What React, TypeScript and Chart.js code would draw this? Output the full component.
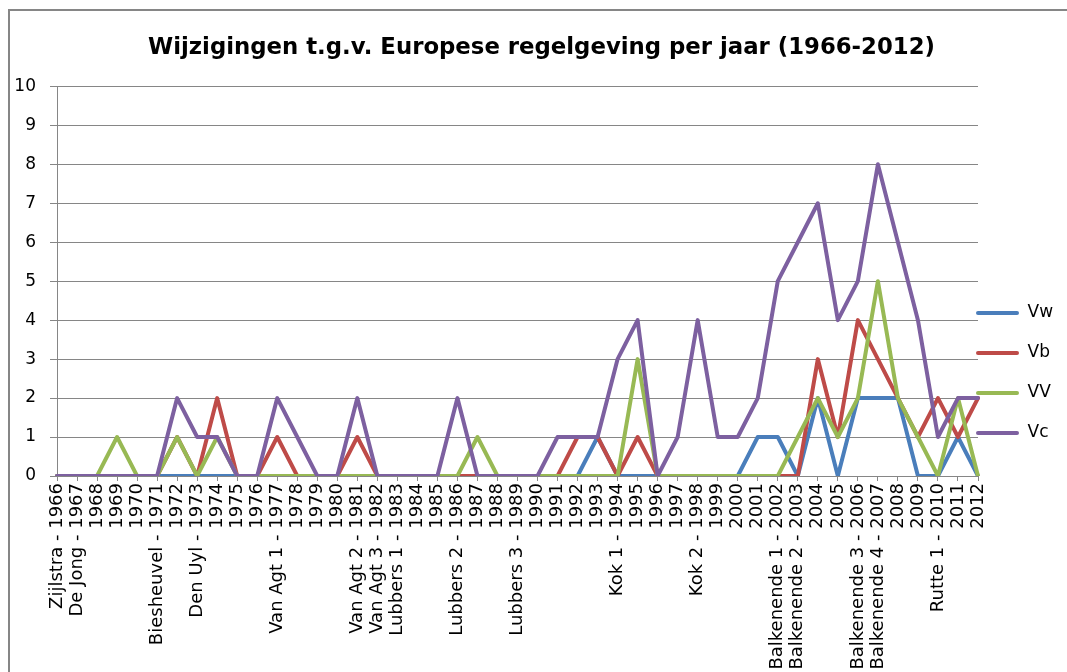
import React, { useEffect, useRef } from 'react';
import { Chart, registerables } from 'chart.js';

Chart.register(...registerables);

const TITLE = 'Wijzigingen t.g.v. Europese regelgeving per jaar (1966-2012)';

const categories = [
  'Zijlstra - 1966', 'De Jong - 1967', '1968', '1969', '1970',
  'Biesheuvel - 1971', '1972', 'Den Uyl - 1973', '1974', '1975',
  '1976', 'Van Agt 1 - 1977', '1978', '1979', '1980',
  'Van Agt 2 - 1981', 'Van Agt 3 - 1982', 'Lubbers 1 - 1983', '1984', '1985',
  'Lubbers 2 - 1986', '1987', '1988', 'Lubbers 3 - 1989', '1990',
  '1991', '1992', '1993', 'Kok 1 - 1994', '1995',
  '1996', '1997', 'Kok 2 - 1998', '1999', '2000',
  '2001', 'Balkenende 1 - 2002', 'Balkenende 2 - 2003', '2004', '2005',
  'Balkenende 3 - 2006', 'Balkenende 4 - 2007', '2008', '2009', 'Rutte 1 - 2010',
  '2011', '2012',
];

const seriesNames = ['Vw', 'Vb', 'VV', 'Vc'];
const seriesColors = ['#4A7EBB', '#BE4B48', '#98B954', '#7D60A0'];

const vw = [0, 0, 0, 0, 0, 0, 0, 0, 0, 0, 0, 0, 0, 0, 0, 0, 0, 0, 0, 0, 0, 0, 0, 0, 0, 0, 0, 1, 0, 0, 0, 0, 0, 0, 0, 1, 1, 0, 2, 0, 2, 2, 2, 0, 0, 1, 0];
const vb = [0, 0, 0, 0, 0, 0, 1, 0, 2, 0, 0, 1, 0, 0, 0, 1, 0, 0, 0, 0, 0, 0, 0, 0, 0, 0, 1, 1, 0, 1, 0, 0, 0, 0, 0, 0, 0, 0, 3, 1, 4, 3, 2, 1, 2, 1, 2];
const vv = [0, 0, 0, 1, 0, 0, 1, 0, 1, 0, 0, 0, 0, 0, 0, 0, 0, 0, 0, 0, 0, 1, 0, 0, 0, 0, 0, 0, 0, 3, 0, 0, 0, 0, 0, 0, 0, 1, 2, 1, 2, 5, 2, 1, 0, 2, 0];
const vc = [0, 0, 0, 0, 0, 0, 2, 1, 1, 0, 0, 2, 1, 0, 0, 2, 0, 0, 0, 0, 2, 0, 0, 0, 0, 1, 1, 1, 3, 4, 0, 1, 4, 1, 1, 2, 5, 6, 7, 4, 5, 8, 6, 4, 1, 2, 2];

const seriesValues = [vw, vb, vv, vc];

const FONT = '"DejaVu Sans", sans-serif';
const GRID = '#868686';

const borderPlugin = {
  id: 'outerBorder',
  beforeDraw(chart: any) {
    const ctx = chart.ctx;
    ctx.save();
    ctx.strokeStyle = GRID;
    ctx.lineWidth = 2;
    ctx.strokeRect(9, 10, 1300, 900);
    ctx.restore();
  },
};

const LEGEND_PAD = 23;
const LEGEND_FONT = 17;
const boxPlacer = {
  id: 'boxPlacer',
  afterLayout(chart: any) {
    const lg = chart.legend;
    if (lg) {
      lg.left = 976 - LEGEND_PAD;
      lg.right = 1067;
      lg.top = 313 - LEGEND_FONT / 2 - LEGEND_PAD;
      lg.bottom = 672;
      lg.width = lg.right - lg.left;
      lg.height = lg.bottom - lg.top;
    }
    const tt = chart.titleBlock;
    if (tt) {
      tt.left = 16;
      tt.right = 1067;
      tt.width = tt.right - tt.left;
    }
  },
};

export default function App() {
  const ref = useRef<HTMLCanvasElement>(null);

  useEffect(() => {
    document.body.style.margin = '0';
    const datasets = seriesNames.map((name, i) => ({
      label: name,
      data: seriesValues[i],
      borderColor: seriesColors[i],
      backgroundColor: seriesColors[i],
      borderWidth: 4,
      borderJoinStyle: 'round' as const,
      borderCapStyle: 'round' as const,
      pointRadius: 0,
      tension: 0,
      fill: false,
      order: seriesNames.length - 1 - i,
    }));

    const chart = new Chart(ref.current!, {
      type: 'line',
      data: { labels: categories, datasets },
      options: {
        responsive: false,
        devicePixelRatio: 1,
        animation: false,
        layout: { padding: 0 },
        plugins: {
          title: {
            display: true,
            text: TITLE,
            color: '#000',
            font: { family: FONT, size: 22.8, weight: 'bold' },
            padding: { top: 34, bottom: 25 },
          },
          legend: {
            position: 'right',
            align: 'start',
            maxWidth: 89,
            labels: {
              boxWidth: 43,
              boxHeight: 4,
              padding: LEGEND_PAD,
              color: '#000',
              font: { family: FONT, size: LEGEND_FONT },
              generateLabels: (c: any) =>
                c.data.datasets.map((ds: any, i: number) => ({
                  text: ds.label,
                  fillStyle: ds.borderColor,
                  strokeStyle: ds.borderColor,
                  lineWidth: 0,
                  hidden: false,
                  datasetIndex: i,
                  fontColor: '#000',
                  borderRadius: 2,
                })),
            },
          },
          tooltip: { enabled: false },
        },
        scales: {
          x: {
            grid: { drawOnChartArea: false, color: GRID, tickLength: 5 },
            border: { color: GRID, width: 1 },
            ticks: {
              autoSkip: false,
              minRotation: 90,
              maxRotation: 90,
              padding: 2,
              color: '#000',
              font: { family: FONT, size: 18 },
            },
            afterFit: (s: any) => {
              s.height = 196;
            },
          },
          y: {
            min: 0,
            max: 10,
            grid: { color: GRID, tickLength: 7 },
            border: { color: GRID, width: 1 },
            ticks: {
              stepSize: 1,
              padding: 14,
              color: '#000',
              font: { family: FONT, size: 17 },
            },
            afterFit: (s: any) => {
              s.width = 57;
            },
          },
        },
      },
      plugins: [borderPlugin, boxPlacer],
    });
    return () => chart.destroy();
  }, []);

  return (
    <div style={{ width: 1067, height: 672, background: '#fff' }}>
      <canvas ref={ref} width={1067} height={672} style={{ display: 'block' }} />
    </div>
  );
}
